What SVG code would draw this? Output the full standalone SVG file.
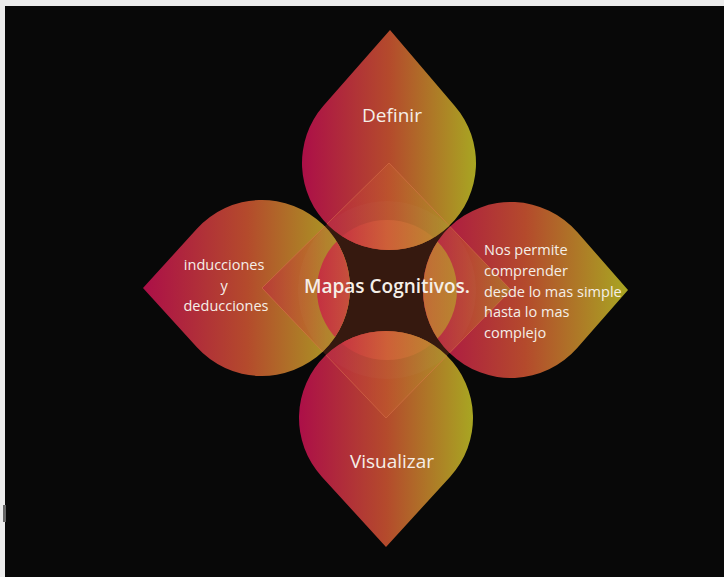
<svg xmlns="http://www.w3.org/2000/svg" width="724" height="577" viewBox="0 0 724 577">
  <defs>
    <linearGradient id="petal" x1="0" y1="0" x2="1" y2="0">
      <stop offset="0" stop-color="#ac0f48"/>
      <stop offset="0.5" stop-color="#b44a2c"/>
      <stop offset="1" stop-color="#a8a622"/>
    </linearGradient>
    <linearGradient id="wedge" x1="0" y1="0" x2="1" y2="0">
      <stop offset="0" stop-color="#bc2a40"/>
      <stop offset="0.5" stop-color="#c0582e"/>
      <stop offset="1" stop-color="#aa9228"/>
    </linearGradient>
    <linearGradient id="lens" x1="0" y1="0" x2="1" y2="0">
      <stop offset="0" stop-color="#c81e46"/>
      <stop offset="0.5" stop-color="#d2623a"/>
      <stop offset="1" stop-color="#b8962c"/>
    </linearGradient>
    <clipPath id="circles">
      <circle cx="389" cy="163" r="87"/>
      <circle cx="262" cy="288" r="88"/>
      <circle cx="511" cy="290" r="88"/>
      <circle cx="386" cy="418" r="87"/>
    </clipPath>
    <style>
      .petal { fill: url(#petal); }
      .wedge { fill: url(#wedge); opacity: 0.6; }
      .lbl { font-family: "Open Sans", "Noto Sans", "Liberation Sans", sans-serif; fill: #f5efe8; }
      .big { font-size: 19px; text-anchor: middle; font-weight: 500; }
      .small { font-size: 14.5px; font-weight: 500; }
    </style>
  </defs>

  <!-- frame -->
  <rect x="0" y="0" width="724" height="577" fill="#ececec"/>
  <rect x="5" y="6" width="719" height="571" fill="#080808"/>
  <rect x="3" y="505" width="3" height="17" fill="#666"/>

  <!-- central dark diamond -->
  <g id="center-diamond">
    <path d="M389 163 L511 290 L386 418 L262 288 Z" fill="#36190f"/>
  </g>

  <!-- petals -->
  <g id="node-definir">
    <path class="petal" d="M390 30 L454.8 106.1 A87 87 0 1 1 323.2 106.1 Z"/>
    <path class="wedge" d="M389 163 L327 224 A87 87 0 0 0 449.3 225.7 Z"/>
  </g>
  <g id="node-inducciones">
    <path class="petal" d="M143 288 L196.9 228.8 A88 88 0 1 1 196.9 347.2 Z"/>
    <path class="wedge" d="M262 288 L324.7 226.3 A88 88 0 0 1 322.7 351.6 Z"/>
  </g>
  <g id="node-nos-permite">
    <path class="petal" d="M628 290 L577.2 348 A88 88 0 1 1 577.2 232 Z"/>
    <path class="wedge" d="M511 290 L450 226.5 A88 88 0 0 0 449.5 353 Z"/>
  </g>
  <g id="node-visualizar">
    <path class="petal" d="M386 547 L321.8 476.7 A87 87 0 1 1 450.2 476.7 Z"/>
    <path class="wedge" d="M386 418 L326 355.1 A87 87 0 0 1 446.8 355.7 Z"/>
  </g>

  <!-- central overlays -->
  <g id="node-mapas" clip-path="url(#circles)">
    <circle cx="387" cy="290" r="89" fill="#ffffff" opacity="0.025"/>
    <circle cx="387" cy="290" r="70" fill="url(#lens)" opacity="0.8"/>
    <path d="M389 163 L511 290 L386 418 L262 288 Z" fill="none" stroke="#e07a50" stroke-width="1" opacity="0.5"/>
  </g>

  <!-- texts -->
  <g id="texts">
    <text class="lbl big" x="392" y="122">Definir</text>
    <text class="lbl big" x="387" y="293" font-weight="600" style="font-weight:600">Mapas Cognitivos.</text>
    <text class="lbl big" x="392" y="468">Visualizar</text>
    <text class="lbl small" text-anchor="middle">
      <tspan x="226" y="270">inducciones</tspan>
      <tspan x="226" y="290.5">y</tspan>
      <tspan x="226" y="311">deducciones</tspan>
    </text>
    <text class="lbl small">
      <tspan x="484" y="255">Nos permite</tspan>
      <tspan x="484" y="275.8">comprender</tspan>
      <tspan x="484" y="296.6">desde lo mas simple</tspan>
      <tspan x="484" y="317.4">hasta lo mas</tspan>
      <tspan x="484" y="338.2">complejo</tspan>
    </text>
  </g>
  <g id="connectors"/>
</svg>
